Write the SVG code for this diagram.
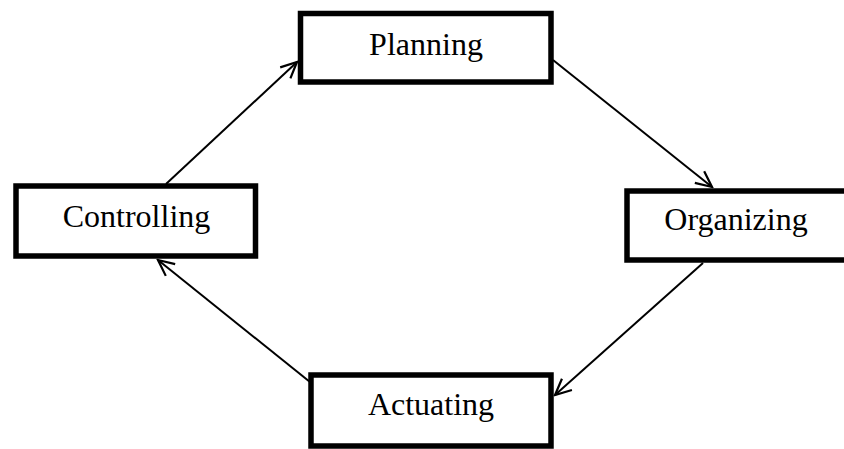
<svg xmlns="http://www.w3.org/2000/svg" width="844" height="449" viewBox="0 0 844 449">
<style>
.box{fill:#fff;stroke:#000;stroke-width:5.5}
.lbl{font-family:"Liberation Serif","Times New Roman",serif;font-size:32px;fill:#000;text-anchor:middle}
.edge{stroke:#000;stroke-width:2;fill:none}
</style>
<defs>
<marker id="arr" viewBox="0 0 20 20" refX="18" refY="10" markerWidth="20" markerHeight="20" markerUnits="userSpaceOnUse" orient="auto">
<path d="M2,2.5 L18,10 L2,17.5" fill="none" stroke="#000" stroke-width="2.2"/>
</marker>
</defs>
<rect width="844" height="449" fill="#fff"/>
<g id="connectors">
<line class="edge" x1="166" y1="184" x2="297" y2="62" marker-end="url(#arr)"/>
<line class="edge" x1="553" y1="60" x2="712" y2="187" marker-end="url(#arr)"/>
<line class="edge" x1="703" y1="263" x2="555" y2="395" marker-end="url(#arr)"/>
<line class="edge" x1="310" y1="382" x2="158" y2="260" marker-end="url(#arr)"/>
</g>
<g id="planning">
<rect class="box" x="300.5" y="13.5" width="250.5" height="68.5"/>
<text class="lbl" x="426" y="55">Planning</text>
</g>
<g id="controlling">
<rect class="box" x="16" y="186" width="239.5" height="70"/>
<text class="lbl" x="136.5" y="227">Controlling</text>
</g>
<g id="organizing">
<rect class="box" x="627" y="191" width="220" height="69"/>
<text class="lbl" x="736" y="230">Organizing</text>
</g>
<g id="actuating">
<rect class="box" x="311" y="375" width="240" height="71"/>
<text class="lbl" x="431" y="415">Actuating</text>
</g>
</svg>
